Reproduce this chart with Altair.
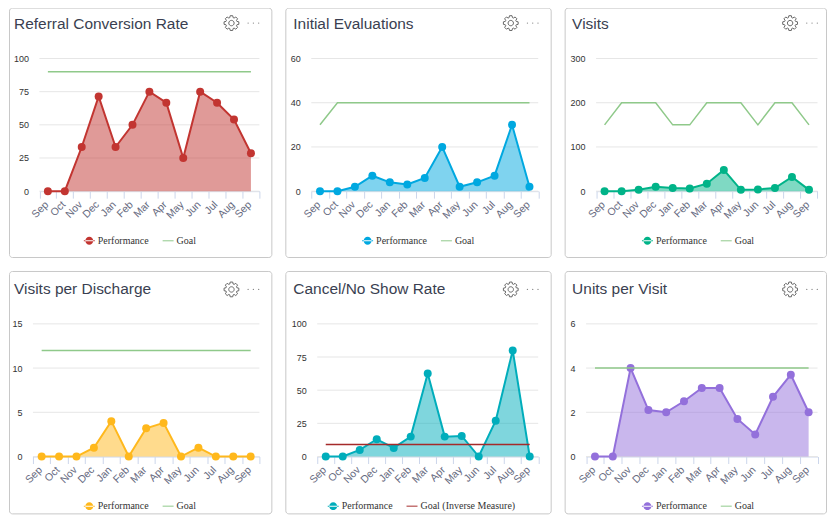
import math
import altair as alt
import pandas as pd

months = ["Sep 21", "Oct 21", "Nov 21", "Dec 21", "Jan 22", "Feb 22", "Mar 22",
          "Apr 22", "May 22", "Jun 22", "Jul 22", "Aug 22", "Sep 22"]

titles = ["Referral Conversion Rate", "Initial Evaluations", "Visits",
          "Visits per Discharge", "Cancel/No Show Rate", "Units per Visit"]

referral = [0, 0, 33.3, 71.4, 33.3, 50, 75, 66.7, 25, 75, 66.7, 54, 28.6]
referral_goal = [90] * 13
initial = [0, 0, 2, 7, 4, 3, 6, 20, 2, 4, 7, 30, 2]
initial_goal = [30, 40, 40, 40, 40, 40, 40, 40, 40, 40, 40, 40, 40]
visits = [0, 0, 3, 10, 7, 6, 17, 48, 3, 4, 7, 32, 3]
visits_goal = [150, 200, 200, 200, 150, 150, 200, 200, 200, 150, 200, 200, 150]
per_discharge = [0, 0, 0, 1, 4, 0, 3.2, 3.8, 0, 1, 0, 0, 0]
per_discharge_goal = [12] * 13
cancel = [0, 0, 5, 13, 6.5, 15, 62.5, 15, 15.5, 0, 27, 80, 0]
cancel_goal = [9] * 13
units = [0, 0, 4, 2.1, 2, 2.5, 3.1, 3.1, 1.7, 1, 2.7, 3.7, 2]
units_goal = [4] * 13

performance = [referral, initial, visits, per_discharge, cancel, units]
goals = [referral_goal, initial_goal, visits_goal, per_discharge_goal, cancel_goal, units_goal]
y_max = [100, 60, 300, 15, 100, 6]
y_ticks = [[0, 25, 50, 75, 100], [0, 20, 40, 60], [0, 100, 200, 300],
           [0, 5, 10, 15], [0, 25, 50, 75, 100], [0, 2, 4, 6]]
colors = ["#c23531", "#00a8e0", "#00b388", "#ffb81c", "#00adbb", "#9370db"]
goal_colors = ["#8fc98a", "#8fc98a", "#8fc98a", "#8fc98a", "#a52a2a", "#8fc98a"]
goal_names = ["Goal", "Goal", "Goal", "Goal", "Goal (Inverse Measure)", "Goal"]

# page layout, in page pixels
plots = [(38.5, 259, 59, 192), (311, 538.5, 59, 192), (596.5, 818.5, 59, 192),
         (32, 259, 325, 458), (317, 538.5, 325, 458), (586.5, 818.5, 325, 458)]
cards = [(8, 271, 8, 258), (285, 551, 8, 258), (565, 827, 8, 258),
         (8, 271, 272, 515), (285, 551, 272, 515), (565, 827, 272, 515)]
icon_right = [271, 551, 831, 271, 551, 831]
legend_left = [83, 362, 642.5, 83, 327.5, 642.5]
title_left = [13, 293, 572.5, 13, 293, 572.5]

LINE_DOT = ("M-1,-0.09H1V0.09H-1Z"
            "M-0.72,0A0.72,0.72 0 1 0 0.72,0A0.72,0.72 0 1 0 -0.72,0Z")
LINE_ONLY = "M-1,-0.09H1V0.09H-1Z"
DOTS = ("M-1.13,0A0.13,0.13 0 1 0 -0.87,0A0.13,0.13 0 1 0 -1.13,0Z"
        "M-0.13,0A0.13,0.13 0 1 0 0.13,0A0.13,0.13 0 1 0 -0.13,0Z"
        "M0.87,0A0.13,0.13 0 1 0 1.13,0A0.13,0.13 0 1 0 0.87,0Z")


def gear_path():
    pts = []
    teeth = 8
    for i in range(teeth):
        a = 2 * math.pi * i / teeth
        for da, r in [(-0.30, 0.76), (-0.17, 1.0), (0.17, 1.0), (0.30, 0.76)]:
            pts.append((r * math.sin(a + da), -r * math.cos(a + da)))
    d = "M" + "L".join(f"{x:.3f},{y:.3f}" for x, y in pts) + "Z"
    return d + "M-0.36,0A0.36,0.36 0 1 0 0.36,0A0.36,0.36 0 1 0 -0.36,0Z"


GEAR = gear_path()


def panel(i):
    left, right, top, bottom = plots[i]
    cl, cr, ct, cb = cards[i]
    w, h = cr - cl, cb - ct
    pl, pr, pt, pb = left - cl, right - cl, top - ct, bottom - ct
    df = pd.DataFrame({"month": months, "perf": performance[i], "goal": goals[i]})
    base = alt.Chart(df)
    y_scale = alt.Scale(domain=[0, y_max[i]], nice=False, range=[pb, pt])
    y_axis = alt.Axis(title=None, values=y_ticks[i], domain=False, ticks=False, labelOverlap=False,
                      labelFont="Liberation Sans", labelFontSize=9, labelColor="#333333",
                      offset=-pl, labelPadding=11, grid=False)
    x = alt.X("month:N", sort=months,
              scale=alt.Scale(type="band", paddingInner=0, paddingOuter=0, range=[pl, pr]),
              axis=alt.Axis(title=None, labelExpr="slice(datum.label, 0, 3)", labelAngle=-45,
                            labelAlign="right", labelBaseline="top", labelFont="Liberation Sans",
                            labelFontSize=10.5, labelColor="#666a80", labelPadding=1, labelOffset=-5,
                            offset=pb - h, tickBand="extent", tickColor="#ccd6eb", tickSize=7,
                            domainColor="#ccd6eb", grid=False, labelOverlap=False))
    y = alt.Y("perf:Q", scale=y_scale, axis=y_axis)
    grid = alt.Chart(pd.DataFrame({"tick": y_ticks[i]})).mark_rule(color="#e6e6e6", strokeWidth=1).encode(
        x=alt.value(pl), x2=alt.value(pr), y=alt.Y("tick:Q", scale=y_scale, axis=y_axis))
    area = base.mark_area(color=colors[i], opacity=0.5).encode(x=x, y=y)
    line = base.mark_line(color=colors[i], strokeWidth=2).encode(x=x, y=y)
    points = base.mark_circle(color=colors[i], size=64, opacity=1).encode(x=x, y=y)
    goal = base.mark_line(color=goal_colors[i], strokeWidth=1.5).encode(
        x=x, y=alt.Y("goal:Q", scale=y_scale, axis=y_axis))

    names = ["Performance", goal_names[i]]
    legend_layer = alt.Chart(alt.Data(values=[])).mark_point(filled=True, opacity=1).encode(
        x=alt.value(0), y=alt.value(0),
        color=alt.Color("series:N", scale=alt.Scale(domain=names, range=[colors[i], goal_colors[i]]),
                        legend=alt.Legend(title=None, orient="none", direction="horizontal", columns=2,
                                          legendX=legend_left[i] - cl, legendY=(228 if i < 3 else 230),
                                          padding=0, symbolStrokeWidth=0, symbolSize=121,
                                          labelFont="Liberation Serif", labelFontSize=10, labelColor="#333333",
                                          labelOffset=3, columnPadding=13)),
        shape=alt.Shape("series:N", scale=alt.Scale(domain=names, range=[LINE_DOT, LINE_ONLY]), legend=alt.Legend(title=None)),
    )
    title = alt.Chart().mark_text(text=titles[i], align="left", baseline="alphabetic",
                                  font="Liberation Sans", fontSize=15.5, color="#3a3f51").encode(
        x=alt.value(title_left[i] - cl), y=alt.value(21 if i < 3 else 23))
    gear = alt.Chart().mark_point(shape=GEAR, size=225, filled=False, stroke="#666666", strokeWidth=1, opacity=1).encode(
        x=alt.value(icon_right[i] - 40 - cl), y=alt.value(15.5 if i < 3 else 18.5))
    dots = alt.Chart().mark_point(shape=DOTS, size=112, filled=True, fill="#888888", strokeWidth=0, opacity=1).encode(
        x=alt.value(icon_right[i] - 18 - cl), y=alt.value(15.5 if i < 3 else 18.5))
    return alt.layer(grid, area, line, points, goal, legend_layer, title, gear, dots).properties(
        width=w, height=h).resolve_scale(color="independent", shape="independent")


chart = alt.concat(*[panel(i) for i in range(6)], columns=3, spacing=14, bounds="flush",
                   padding={"left": 0, "top": -2, "right": 1, "bottom": 1}, background="white"
                   ).resolve_scale(color="independent", shape="independent"
                   ).configure_view(stroke="#c8c8c8", cornerRadius=3)
chart.save("out.html", embed_options={"renderer": "svg", "actions": False})
